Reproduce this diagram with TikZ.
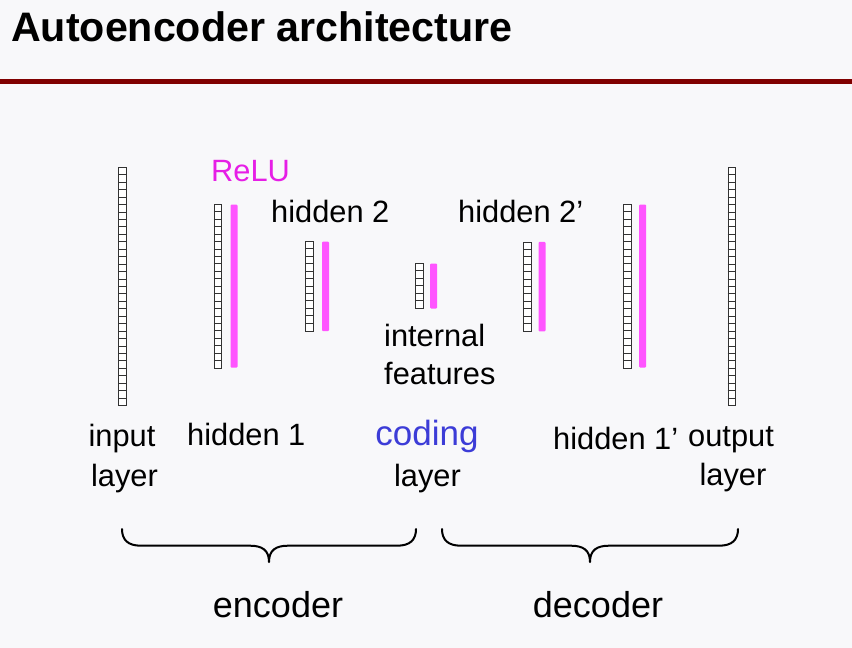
\documentclass[tikz,border=0pt]{standalone}
\usepackage{fontspec}
\setmainfont{Liberation Sans}
\definecolor{bgc}{RGB}{248,248,250}
\definecolor{rulered}{RGB}{128,0,0}
\definecolor{relupink}{RGB}{255,85,255}
\definecolor{relutext}{RGB}{230,30,230}
\definecolor{codingblue}{RGB}{60,60,215}
\definecolor{cellgray}{RGB}{50,50,50}
\newcommand\nncol[4]{%
  \node[cellcol, minimum height={#4*7.44pt}, anchor=north west] (#1) at (#2,#3) {};
  \pgfmathtruncatemacro\nnlast{#4-1}%
  \foreach \i in {1,...,\nnlast} \draw[cellline] (#2,{#3+\i*7.44}) -- ++(7.4,0);
}
\begin{document}
\begin{tikzpicture}[x=1pt,y=-1pt,
  lbl/.style={inner sep=0, font=\fontsize{30.8}{36}\selectfont},
  cellcol/.style={draw=cellgray, line width=0.9pt, fill=white, minimum width=7.4pt, inner sep=0},
  cellline/.style={draw=cellgray, line width=0.7pt},
  relubar/.style={fill=relupink, draw=none, rounded corners=1pt, minimum width=7pt, inner sep=0, anchor=north west},
  bracestyle/.style={line width=2pt, line cap=round, line join=round}]
\useasboundingbox (0,0) rectangle (852,648);
\fill[bgc] (0,0) rectangle (852,648);
% title and rule
\node[inner sep=0, anchor=base west, font=\fontsize{41.2}{48}\selectfont\bfseries] (title) at (11,41.7) {Autoencoder architecture};
\fill[rulered] (0,79) rectangle (852,84);
% layer columns
\nncol{inp}{118.3}{167.3}{32}
\nncol{hone}{213.8}{204.3}{22}
\nncol{htwo}{305.3}{241.3}{12}
\nncol{cod}{415.3}{263.3}{6}
\nncol{htwop}{523.3}{241.7}{12}
\nncol{honep}{623.3}{204.3}{22}
\nncol{outp}{727.7}{167.3}{32}
% ReLU bars
\node[relubar, minimum height=163pt] (honer) at (230.3,204.3) {};
\node[relubar, minimum height=89.5pt] (htwor) at (321.8,241.3) {};
\node[relubar, minimum height=45pt] (codr) at (430,263.3) {};
\node[relubar, minimum height=89.5pt] (htwopr) at (538.3,241.7) {};
\node[relubar, minimum height=163pt] (honepr) at (639,204.3) {};
% labels
\node[lbl, anchor=base west, text=relutext] (relu) at (211,181) {ReLU};
\node[lbl, anchor=base west] (lhtwo) at (271,222.7) {hidden 2};
\node[lbl, anchor=base west] (lhtwop) at (458,222.7) {hidden 2’};
\node[lbl, anchor=base west] (lint) at (384,346) {internal};
\node[lbl, anchor=base west] (lfeat) at (384,384) {features};
\node[lbl, anchor=base] (linp) at (122,446) {input};
\node[lbl, anchor=base] (linpb) at (124.5,486) {layer};
\node[lbl, anchor=base west] (lhone) at (187,445) {hidden 1};
\node[inner sep=0, anchor=base, font=\fontsize{35}{40}\selectfont, text=codingblue] (lcod) at (427,445) {coding};
\node[lbl, anchor=base] (lcodb) at (427.5,486) {layer};
\node[lbl, anchor=base west] (lhonep) at (553,449) {hidden 1’};
\node[lbl, anchor=base west] (lout) at (688,446) {output};
\node[lbl, anchor=base] (loutb) at (733,485) {layer};
% braces
\draw[bracestyle] (122,529) .. controls (122,540) and (128,545.7) .. (141,545.7)
  -- (250,545.7) .. controls (262,545.7) and (269,550) .. (269,562)
  .. controls (269,550) and (276,545.7) .. (288,545.7)
  -- (397,545.7) .. controls (410,545.7) and (416,540) .. (416,529);
\draw[bracestyle] (442,529) .. controls (442,540) and (448,545.7) .. (461,545.7)
  -- (571,545.7) .. controls (583,545.7) and (590,550) .. (590,562)
  .. controls (590,550) and (597,545.7) .. (609,545.7)
  -- (719,545.7) .. controls (732,545.7) and (738,540) .. (738,529);
\node[inner sep=0, anchor=base, font=\fontsize{36}{42}\selectfont] (lenc) at (278,617) {encoder};
\node[inner sep=0, anchor=base, font=\fontsize{36}{42}\selectfont] (ldec) at (598,617) {decoder};
\end{tikzpicture}
\end{document}
